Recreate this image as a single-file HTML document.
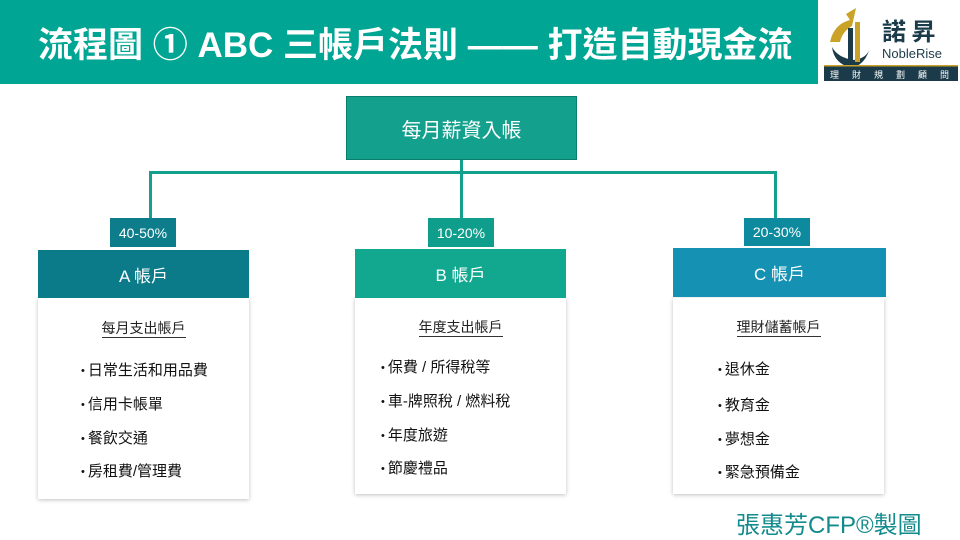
<!DOCTYPE html>
<html><head><meta charset="utf-8"><style>
body{margin:0;width:960px;height:540px;background:#fff;position:relative;overflow:hidden;font-family:"Liberation Sans","Noto Sans CJK TC",sans-serif;}
.a{position:absolute;box-sizing:border-box;}
.c{display:flex;align-items:center;justify-content:center;color:#fff;}
.card{background:#fff;box-shadow:0 1px 4px rgba(0,0,0,.25);}
.sub{position:absolute;left:0;right:0;text-align:center;font-size:14px;color:#222;}
.sub span{border-bottom:1px solid #333;padding-bottom:1px;}
.it{position:absolute;font-size:15px;color:#111;white-space:nowrap;}
.it:before{content:"•";font-size:11px;margin-right:3px;position:relative;top:-1px;}
</style></head><body>
<div class="a c" style="left:0;top:0;width:818px;height:84px;background:#00a693;font-size:35px;font-weight:bold;justify-content:flex-start;padding-left:38px;">流程圖 ① ABC 三帳戶法則 —— 打造自動現金流</div>
<div class="a" style="left:822px;top:2px;width:136px;height:80px;">
<svg width="136" height="80"><path d="M8 40 Q12 22 28 18 L24 12 L34 6 L30 24 Q20 30 18 40Z" fill="#c9a227"/><path d="M10 45 Q12 62 30 66 Q44 62 48 45 Q46 56 32 58 Q16 56 10 45Z" fill="#1b3b4a"/><rect x="26" y="26" width="5" height="34" fill="#1b3b4a"/><rect x="33" y="20" width="5" height="40" fill="#c9a227"/><text x="60" y="38" font-size="24" font-weight="bold" fill="#1b3b4a" font-family="Noto Sans CJK TC,sans-serif">諾 昇</text><text x="60" y="56" font-size="13" fill="#1b3b4a" font-family="Liberation Sans,sans-serif">NobleRise</text><rect x="2" y="64" width="134" height="15" fill="#1b3b4a"/><rect x="2" y="63" width="134" height="1.5" fill="#c9a227"/><text x="8" y="76" font-size="9" fill="#fff" letter-spacing="13" font-family="Noto Sans CJK TC,sans-serif">理財規劃顧問</text></svg>
</div>
<div class="a c" style="left:346px;top:96px;width:231px;height:64px;background:#13a08d;border:1px solid #0b7d6d;font-size:20px">每月薪資入帳</div>
<div class="a" style="left:460px;top:160px;width:3px;height:58px;background:#13a08d"></div>
<div class="a" style="left:149px;top:171px;width:628px;height:3px;background:#13a08d"></div>
<div class="a" style="left:149px;top:171px;width:3px;height:47px;background:#13a08d"></div>
<div class="a" style="left:774px;top:171px;width:3px;height:47px;background:#13a08d"></div>
<div class="a c" style="left:110px;top:218px;width:66px;height:29px;background:#0d7d8c;font-size:14px">40-50%</div>
<div class="a c" style="left:428px;top:218px;width:66px;height:29px;background:#0f9e8c;font-size:14px">10-20%</div>
<div class="a c" style="left:744px;top:218px;width:66px;height:28px;background:#0e8a9e;font-size:14px">20-30%</div>
<div class="a card" style="left:38px;top:298px;width:211px;height:201px"><div class="sub" style="top:20px"><span>每月支出帳戶</span></div></div>
<div class="a card" style="left:355px;top:298px;width:211px;height:196px"><div class="sub" style="top:19px"><span>年度支出帳戶</span></div></div>
<div class="a card" style="left:673px;top:298px;width:211px;height:196px"><div class="sub" style="top:19px"><span>理財儲蓄帳戶</span></div></div>
<div class="a c" style="left:38px;top:250px;width:211px;height:48px;background:#0b7a89;font-size:17px">A 帳戶</div>
<div class="a c" style="left:355px;top:249px;width:211px;height:49px;background:#12a88f;font-size:17px">B 帳戶</div>
<div class="a c" style="left:673px;top:248px;width:213px;height:49px;background:#1591b4;font-size:17px">C 帳戶</div>
<div class="it" style="left:81px;top:359px">日常生活和用品費</div>
<div class="it" style="left:81px;top:393px">信用卡帳單</div>
<div class="it" style="left:81px;top:427px">餐飲交通</div>
<div class="it" style="left:81px;top:460px">房租費/管理費</div>
<div class="it" style="left:381px;top:356px">保費 / 所得稅等</div>
<div class="it" style="left:381px;top:390px">車-牌照稅 / 燃料稅</div>
<div class="it" style="left:381px;top:424px">年度旅遊</div>
<div class="it" style="left:381px;top:457px">節慶禮品</div>
<div class="it" style="left:718px;top:358px">退休金</div>
<div class="it" style="left:718px;top:394px">教育金</div>
<div class="it" style="left:718px;top:428px">夢想金</div>
<div class="it" style="left:718px;top:461px">緊急預備金</div>
<div class="a" style="left:736px;top:505px;font-size:24px;color:#138a8c;white-space:nowrap">張惠芳CFP®製圖</div>
</body></html>
